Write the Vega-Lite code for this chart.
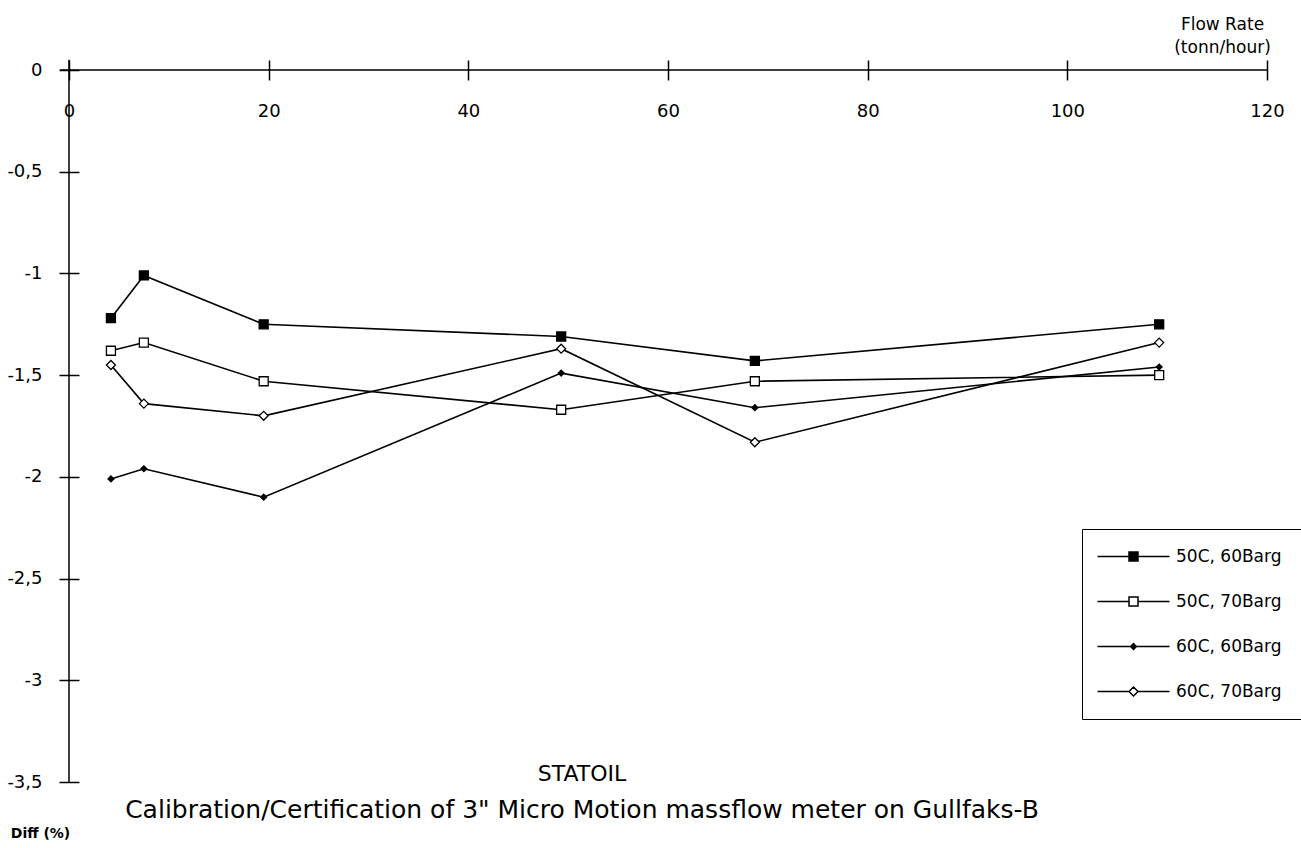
{
  "$schema": "https://vega.github.io/schema/vega-lite/v6.json",
  "width": 1198,
  "height": 712,
  "autosize": "none",
  "padding": {"left": 69, "top": 70, "right": 34, "bottom": 66},
  "background": "white",
  "config": {"view": {"stroke": null}, "font": "DejaVu Sans"},
  "title": {
    "text": "STATOIL",
    "subtitle": "Calibration/Certification of 3\" Micro Motion massflow meter on  Gullfaks-B",
    "orient": "bottom",
    "anchor": "middle",
    "offset": -76,
    "dx": -86,
    "fontSize": 22,
    "fontWeight": "normal",
    "subtitleFontSize": 25,
    "subtitlePadding": 12,
    "color": "black",
    "subtitleColor": "black",
    "font": "DejaVu Sans",
    "subtitleFont": "DejaVu Sans"
  },
  "data": {
    "values": [
      {"series": "50C, 60Barg", "flow": 4.2, "diff": -1.22},
      {"series": "50C, 60Barg", "flow": 7.5, "diff": -1.01},
      {"series": "50C, 60Barg", "flow": 19.5, "diff": -1.25},
      {"series": "50C, 60Barg", "flow": 49.3, "diff": -1.31},
      {"series": "50C, 60Barg", "flow": 68.7, "diff": -1.43},
      {"series": "50C, 60Barg", "flow": 109.2, "diff": -1.25},
      {"series": "50C, 70Barg", "flow": 4.2, "diff": -1.38},
      {"series": "50C, 70Barg", "flow": 7.5, "diff": -1.34},
      {"series": "50C, 70Barg", "flow": 19.5, "diff": -1.53},
      {"series": "50C, 70Barg", "flow": 49.3, "diff": -1.67},
      {"series": "50C, 70Barg", "flow": 68.7, "diff": -1.53},
      {"series": "50C, 70Barg", "flow": 109.2, "diff": -1.5},
      {"series": "60C, 60Barg", "flow": 4.2, "diff": -2.01},
      {"series": "60C, 60Barg", "flow": 7.5, "diff": -1.96},
      {"series": "60C, 60Barg", "flow": 19.5, "diff": -2.1},
      {"series": "60C, 60Barg", "flow": 49.3, "diff": -1.49},
      {"series": "60C, 60Barg", "flow": 68.7, "diff": -1.66},
      {"series": "60C, 60Barg", "flow": 109.2, "diff": -1.46},
      {"series": "60C, 70Barg", "flow": 4.2, "diff": -1.45},
      {"series": "60C, 70Barg", "flow": 7.5, "diff": -1.64},
      {"series": "60C, 70Barg", "flow": 19.5, "diff": -1.7},
      {"series": "60C, 70Barg", "flow": 49.3, "diff": -1.37},
      {"series": "60C, 70Barg", "flow": 68.7, "diff": -1.83},
      {"series": "60C, 70Barg", "flow": 109.2, "diff": -1.34}
    ]
  },
  "resolve": {
    "scale": {"shape": "independent", "fill": "independent", "stroke": "independent"},
    "legend": {"shape": "independent", "fill": "independent", "stroke": "independent"}
  },
  "layer": [
    {
      "mark": {"type": "line", "color": "black", "strokeWidth": 1.6},
      "encoding": {
        "x": {
          "field": "flow", "type": "quantitative",
          "scale": {"domain": [0, 120], "nice": false},
          "axis": {
            "orient": "top", "offset": -10, "tickSize": 20, "tickWidth": 1.5, "tickColor": "black",
            "domain": false, "grid": false,
            "values": [0, 20, 40, 60, 80, 100, 120],
            "labelPadding": -51, "labelBaseline": "middle", "labelFontSize": 18, "labelColor": "black",
            "labelFlush": false, "labelOverlap": false, "labelFont": "DejaVu Sans",
            "title": ["Flow Rate", "(tonn/hour)"],
            "titleX": 1153, "titleY": -64, "titleAlign": "center", "titleBaseline": "top",
            "titleLineHeight": 23, "titleFontSize": 17, "titleFontWeight": "normal", "titleColor": "black",
            "titleFont": "DejaVu Sans", "titleAnchor": null
          }
        },
        "y": {
          "field": "diff", "type": "quantitative",
          "scale": {"domain": [-3.5, 0], "nice": false},
          "axis": {
            "orient": "left", "offset": -10, "tickSize": 20, "tickWidth": 1.5, "tickColor": "black",
            "domain": false, "grid": false,
            "values": [0, -0.5, -1, -1.5, -2, -2.5, -3, -3.5],
            "labelExpr": "replace(toString(datum.value), '.', ',')",
            "labelPadding": 17, "labelFontSize": 18, "labelColor": "black", "labelFont": "DejaVu Sans",
            "labelFlush": false, "labelOverlap": false,
            "title": "Diff (%)",
            "titleAngle": 0, "titleX": -39, "titleY": 763, "titleAlign": "center", "titleBaseline": "middle",
            "titleFontSize": 14, "titleFontWeight": "bold", "titleColor": "black", "titleFont": "DejaVu Sans"
          }
        },
        "detail": {"field": "series", "type": "nominal"}
      }
    },
    {
      "data": {"values": [{}]},
      "mark": {"type": "rule", "color": "black", "strokeWidth": 1.5},
      "encoding": {
        "y": {"datum": 0, "type": "quantitative"},
        "x": {"datum": -0.9, "type": "quantitative"},
        "x2": {"datum": 120}
      }
    },
    {
      "data": {"values": [{}]},
      "mark": {"type": "rule", "color": "black", "strokeWidth": 1.5},
      "encoding": {
        "x": {"datum": 0, "type": "quantitative"},
        "y": {"datum": 0.05, "type": "quantitative"},
        "y2": {"datum": -3.5}
      }
    },
    {
      "mark": {"type": "point", "filled": true, "stroke": "black", "strokeWidth": 1.3, "size": 81, "opacity": 1},
      "encoding": {
        "x": {"field": "flow", "type": "quantitative"},
        "y": {"field": "diff", "type": "quantitative"},
        "shape": {
          "field": "series", "type": "nominal", "legend": null,
          "scale": {
            "domain": ["50C, 60Barg", "50C, 70Barg", "60C, 60Barg", "60C, 70Barg"],
            "range": ["square", "square", "M-0.65,0L0,-0.65L0.65,0L0,0.65Z", "diamond"]
          }
        },
        "fill": {
          "field": "series", "type": "nominal", "legend": null,
          "scale": {
            "domain": ["50C, 60Barg", "50C, 70Barg", "60C, 60Barg", "60C, 70Barg"],
            "range": ["black", "white", "black", "white"]
          }
        }
      }
    },
    {
      "transform": [{"filter": "false"}],
      "mark": {"type": "point", "filled": true, "strokeWidth": 1.5, "size": 81, "opacity": 1},
      "encoding": {
        "x": {"field": "flow", "type": "quantitative"},
        "y": {"field": "diff", "type": "quantitative"},
        "shape": {
          "field": "series", "type": "nominal",
          "scale": {
            "domain": ["50C, 60Barg", "50C, 70Barg", "60C, 60Barg", "60C, 70Barg"],
            "range": ["M-8,0H-1M1,0H8M-1,-1H1V1H-1Z", "M-8,0H-1M1,0H8M-1,-1H1V1H-1Z", "M-8,0H-0.65M0.65,0H8M-0.65,0L0,-0.65L0.65,0L0,0.65Z", "M-8,0H-1M1,0H8M-1,0L0,-1L1,0L0,1Z"]
          },
          "legend": {
            "title": null, "orient": "none", "legendX": 1013, "legendY": 459,
            "padding": 19, "strokeColor": "black", "fillColor": "white",
            "rowPadding": 27, "labelFontSize": 17, "labelColor": "black", "labelFont": "DejaVu Sans",
            "symbolSize": 81, "symbolOffset": 24, "labelOffset": 34, "symbolStrokeWidth": 1.5
          }
        },
        "fill": {
          "field": "series", "type": "nominal",
          "scale": {
            "domain": ["50C, 60Barg", "50C, 70Barg", "60C, 60Barg", "60C, 70Barg"],
            "range": ["black", "white", "black", "white"]
          },
          "legend": {
            "title": null, "orient": "none", "legendX": 1013, "legendY": 459,
            "padding": 19, "strokeColor": "black", "fillColor": "white",
            "rowPadding": 27, "labelFontSize": 17, "labelColor": "black", "labelFont": "DejaVu Sans",
            "symbolSize": 81, "symbolOffset": 24, "labelOffset": 34, "symbolStrokeWidth": 1.5
          }
        },
        "stroke": {
          "field": "series", "type": "nominal",
          "scale": {
            "domain": ["50C, 60Barg", "50C, 70Barg", "60C, 60Barg", "60C, 70Barg"],
            "range": ["black", "black", "black", "black"]
          },
          "legend": {
            "title": null, "orient": "none", "legendX": 1013, "legendY": 459,
            "padding": 19, "strokeColor": "black", "fillColor": "white",
            "rowPadding": 27, "labelFontSize": 17, "labelColor": "black", "labelFont": "DejaVu Sans",
            "symbolSize": 81, "symbolOffset": 24, "labelOffset": 34, "symbolStrokeWidth": 1.5
          }
        }
      }
    }
  ]
}
